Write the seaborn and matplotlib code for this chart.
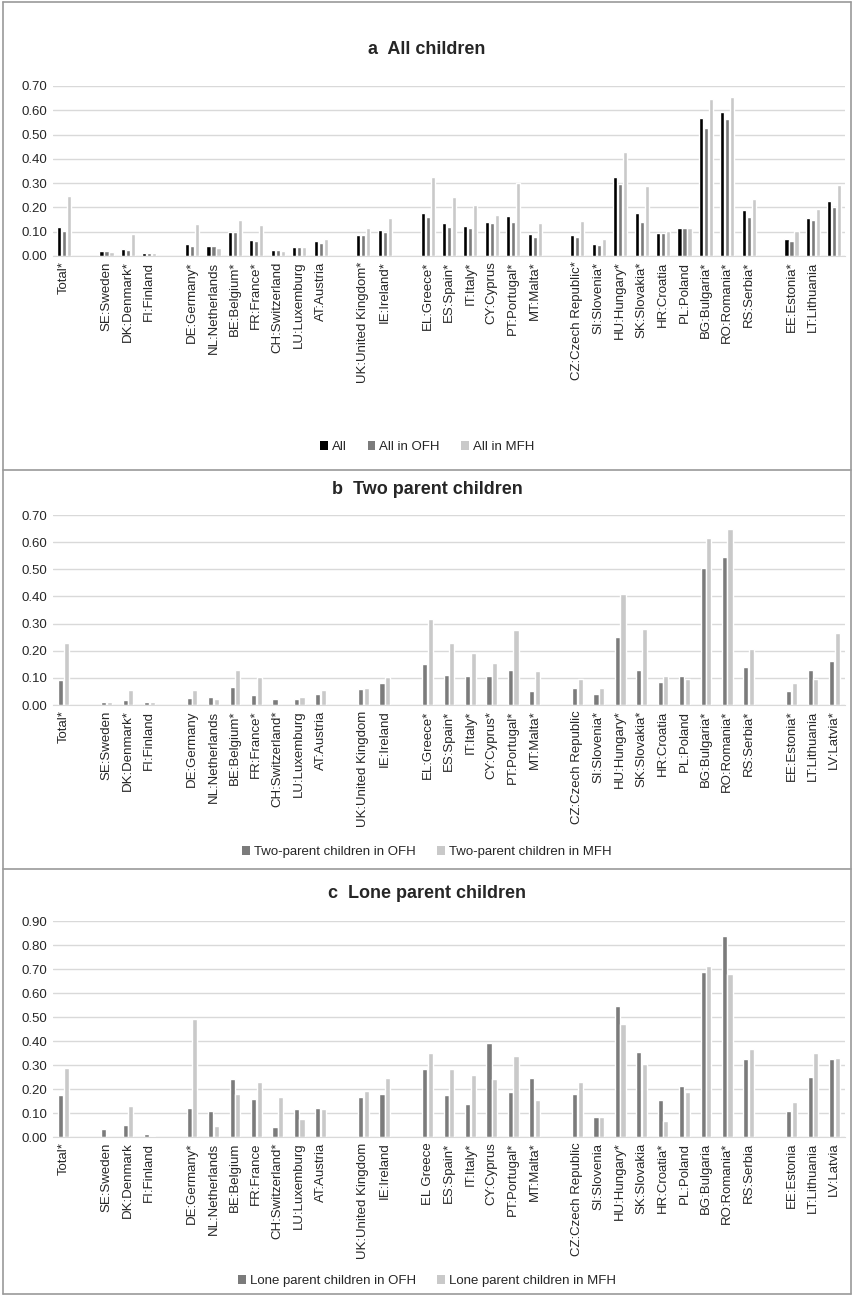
import matplotlib
matplotlib.use("Agg")
import matplotlib.pyplot as plt
import numpy as np
import pandas as pd
import seaborn as sns
from matplotlib.patches import Patch
from matplotlib.lines import Line2D

# Country keys, grouped by welfare regime (gaps drawn between groups)
group_sizes = [1, 3, 7, 2, 6, 9, 3]
keys = ["Total", "SE", "DK", "FI", "DE", "NL", "BE", "FR", "CH", "LU", "AT",
        "UK", "IE", "EL", "ES", "IT", "CY", "PT", "MT",
        "CZ", "SI", "HU", "SK", "HR", "PL", "BG", "RO", "RS", "EE", "LT", "LV"]

labels_a = ["Total*", "SE:Sweden", "DK:Denmark*", "FI:Finland", "DE:Germany*",
            "NL:Netherlands", "BE:Belgium*", "FR:France*", "CH:Switzerland",
            "LU:Luxemburg", "AT:Austria", "UK:United Kingdom*", "IE:Ireland*",
            "EL:Greece*", "ES:Spain*", "IT:Italy*", "CY:Cyprus", "PT:Portugal*",
            "MT:Malta*", "CZ:Czech Republic*", "SI:Slovenia*", "HU:Hungary*",
            "SK:Slovakia*", "HR:Croatia", "PL:Poland", "BG:Bulgaria*",
            "RO:Romania*", "RS:Serbia*", "EE:Estonia*", "LT:Lithuania", ""]
labels_b = ["Total*", "SE:Sweden", "DK:Denmark*", "FI:Finland", "DE:Germany",
            "NL:Netherlands", "BE:Belgium*", "FR:France*", "CH:Switzerland*",
            "LU:Luxemburg", "AT:Austria", "UK:United Kingdom", "IE:Ireland",
            "EL:Greece*", "ES:Spain*", "IT:Italy*", "CY:Cyprus*", "PT:Portugal*",
            "MT:Malta*", "CZ:Czech Republic", "SI:Slovenia*", "HU:Hungary*",
            "SK:Slovakia*", "HR:Croatia", "PL:Poland", "BG:Bulgaria*",
            "RO:Romania*", "RS:Serbia*", "EE:Estonia*", "LT:Lithuania", "LV:Latvia*"]
labels_c = ["Total*", "SE:Sweden", "DK:Denmark", "FI:Finland", "DE:Germany*",
            "NL:Netherlands", "BE:Belgium", "FR:France", "CH:Switzerland*",
            "LU:Luxemburg", "AT:Austria", "UK:United Kingdom", "IE:Ireland",
            "EL Greece", "ES:Spain*", "IT:Italy*", "CY:Cyprus", "PT:Portugal*",
            "MT:Malta*", "CZ:Czech Republic", "SI:Slovenia", "HU:Hungary*",
            "SK:Slovakia", "HR:Croatia*", "PL:Poland", "BG:Bulgaria",
            "RO:Romania*", "RS:Serbia", "EE:Estonia", "LT:Lithuania", "LV:Latvia"]

# a  All children
all_a = [0.12, 0.02, 0.03, 0.013, 0.048, 0.042, 0.10, 0.066, 0.025, 0.037, 0.06,
         0.088, 0.106, 0.178, 0.136, 0.124, 0.138, 0.165, 0.09,
         0.087, 0.05, 0.324, 0.178, 0.096, 0.114, 0.569, 0.594, 0.19,
         0.069, 0.158, 0.225]
ofh_a = [0.104, 0.02, 0.025, 0.013, 0.042, 0.042, 0.097, 0.06, 0.025, 0.037, 0.055,
         0.088, 0.10, 0.16, 0.12, 0.115, 0.135, 0.138, 0.079,
         0.079, 0.046, 0.298, 0.138, 0.096, 0.114, 0.529, 0.565, 0.16,
         0.06, 0.15, 0.20]
mfh_a = [0.248, 0.015, 0.092, 0.013, 0.13, 0.034, 0.15, 0.128, 0.022, 0.037, 0.072,
         0.114, 0.158, 0.325, 0.245, 0.21, 0.17, 0.30, 0.136,
         0.146, 0.072, 0.43, 0.29, 0.104, 0.114, 0.646, 0.654, 0.234,
         0.104, 0.194, 0.293]

# b  Two parent children
ofh_b = [0.093, 0.01, 0.02, 0.01, 0.027, 0.031, 0.066, 0.038, 0.023, 0.023, 0.042,
         0.059, 0.082, 0.15, 0.11, 0.106, 0.106, 0.13, 0.05,
         0.064, 0.041, 0.25, 0.13, 0.086, 0.106, 0.505, 0.545, 0.141,
         0.05, 0.13, 0.162]
mfh_b = [0.23, 0.01, 0.057, 0.01, 0.054, 0.023, 0.13, 0.103, 0.0, 0.031, 0.054,
         0.062, 0.103, 0.317, 0.23, 0.192, 0.154, 0.277, 0.126,
         0.097, 0.062, 0.409, 0.281, 0.106, 0.097, 0.616, 0.65, 0.205,
         0.082, 0.097, 0.265]

# c  Lone parent children
ofh_c = [0.173, 0.032, 0.048, 0.012, 0.12, 0.11, 0.243, 0.16, 0.04, 0.115, 0.12,
         0.168, 0.178, 0.283, 0.173, 0.138, 0.392, 0.188, 0.247,
         0.18, 0.085, 0.544, 0.356, 0.153, 0.214, 0.688, 0.836, 0.323,
         0.107, 0.252, 0.326]
mfh_c = [0.288, 0.0, 0.13, 0.004, 0.49, 0.045, 0.18, 0.229, 0.168, 0.075, 0.115,
         0.193, 0.247, 0.35, 0.283, 0.259, 0.24, 0.337, 0.153,
         0.228, 0.082, 0.47, 0.306, 0.065, 0.189, 0.711, 0.679, 0.365,
         0.147, 0.35, 0.33]

BLACK, DARK, LIGHT = "#000000", "#7b7b7b", "#c9c9c9"

# categorical order with an empty slot between country groups
order = []
start = 0
for g, n in enumerate(group_sizes):
    if g > 0:
        order.append(f"_sep{g}")
    order.extend(keys[start:start + n])
    start += n

sns.set_style("white")
plt.rcParams["font.family"] = ["Liberation Sans", "DejaVu Sans"]

W, H = 854, 1296
fig = plt.figure(figsize=(W / 100, H / 100), dpi=100)


def frac_y(px):
    return 1 - px / H


def panel(top_px, bottom_px, series, names, colors, labels, ymax, width, gap,
          title, title_px, legend_px):
    ax = fig.add_axes([53 / W, frac_y(bottom_px), 792 / W, (bottom_px - top_px) / H])
    frames = [pd.DataFrame({"country": keys, "value": vals, "series": nm})
              for vals, nm in zip(series, names)]
    df = pd.concat(frames, ignore_index=True)
    sns.barplot(data=df, x="country", y="value", hue="series", order=order,
                hue_order=names, palette=colors, width=width, gap=gap,
                saturation=1, errorbar=None, legend=False, ax=ax)
    ax.set_xlim(-0.5, len(order) - 0.5)
    ax.set_ylim(0, ymax)
    ticks = np.round(np.arange(0, ymax + 0.001, 0.1), 2)
    ax.set_yticks(ticks)
    ax.set_yticklabels([f"{t:.2f}" for t in ticks], fontsize=9.5, color="#262626")
    pos = [order.index(k) for k in keys]
    ax.set_xticks(pos)
    ax.set_xticklabels(labels, rotation=90, fontsize=9.5, color="#262626")
    ax.tick_params(axis="both", length=0, pad=4)
    ax.set_xlabel("")
    ax.set_ylabel("")
    ax.yaxis.grid(True, color="#d9d9d9", lw=1)
    ax.set_axisbelow(True)
    for s in ["top", "right", "left"]:
        ax.spines[s].set_visible(False)
    ax.spines["bottom"].set_color("#d9d9d9")
    fig.text(0.5, frac_y(title_px), title, ha="center", va="center",
             fontsize=13, fontweight="bold")
    handles = [Patch(facecolor=c, edgecolor="none") for c in colors]
    fig.legend(handles, names, loc="center", bbox_to_anchor=(0.5, frac_y(legend_px)),
               ncol=len(names), frameon=False, fontsize=9.5, handlelength=0.6,
               handleheight=0.6, handletextpad=0.3, columnspacing=1.6)
    return ax


panel(86, 256, [all_a, ofh_a, mfh_a], ["All", "All in OFH", "All in MFH"],
      [BLACK, DARK, LIGHT], labels_a, 0.7, 0.70, 0.18,
      "a  All children", 50, 447)
panel(515, 705, [ofh_b, mfh_b],
      ["Two-parent children in OFH", "Two-parent children in MFH"],
      [DARK, LIGHT], labels_b, 0.7, 0.52, 0.08,
      "b  Two parent children", 489, 852)
panel(921, 1137, [ofh_c, mfh_c],
      ["Lone parent children in OFH", "Lone parent children in MFH"],
      [DARK, LIGHT], labels_c, 0.9, 0.52, 0.08,
      "c  Lone parent children", 893, 1281)

# panel frames
edge = "#9a9a9a"
x0, x1 = 3 / W, 851 / W
y0, y1 = frac_y(1294), frac_y(2)
for xs, ys in [([x0, x0], [y0, y1]), ([x1, x1], [y0, y1]),
               ([x0, x1], [y1, y1]), ([x0, x1], [y0, y0]),
               ([x0, x1], [frac_y(470), frac_y(470)]),
               ([x0, x1], [frac_y(869), frac_y(869)])]:
    fig.add_artist(Line2D(xs, ys, color=edge, lw=1.2, transform=fig.transFigure))

fig.savefig("out.png", dpi=100, facecolor="white")
